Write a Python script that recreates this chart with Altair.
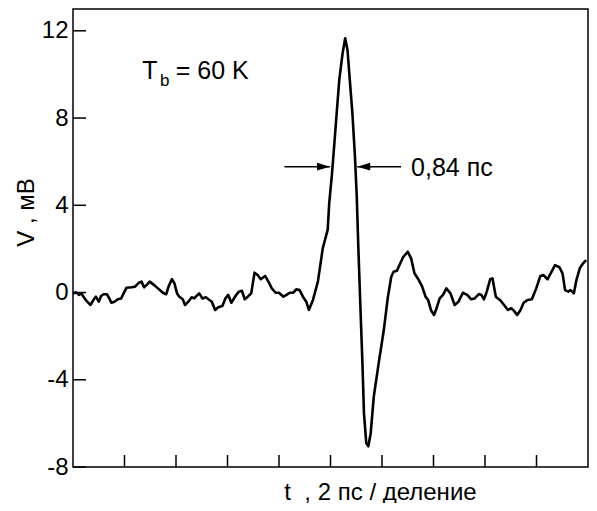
import altair as alt
import pandas as pd

# ---- data (t in ps, V in mV) ----
t_ps = [0.00, 0.13, 0.23, 0.33, 0.42, 0.55, 0.68, 0.81, 0.89, 1.00,
        1.09, 1.19, 1.32, 1.41, 1.49, 1.61, 1.74, 1.87, 2.00, 2.08,
        2.28, 2.41, 2.56, 2.66, 2.76, 2.85, 2.98, 3.15, 3.30, 3.49,
        3.62, 3.71, 3.84, 3.94, 4.04, 4.13, 4.26, 4.35, 4.48, 4.61,
        4.71, 4.77, 4.90, 5.03, 5.16, 5.26, 5.39, 5.52, 5.64, 5.80,
        5.92, 6.03, 6.15, 6.31, 6.44, 6.56, 6.67, 6.79, 6.92, 7.05,
        7.17, 7.29, 7.46, 7.59, 7.72, 7.87, 8.00, 8.17, 8.29, 8.42,
        8.55, 8.68, 8.80, 8.93, 9.06, 9.16, 9.32, 9.51, 9.70, 9.89,
        9.95, 10.06, 10.15, 10.24, 10.34, 10.47, 10.57, 10.66, 10.75, 10.85,
        10.95, 11.02, 11.08, 11.17, 11.24, 11.30, 11.39, 11.47, 11.56, 11.68,
        11.87, 12.07, 12.23, 12.36, 12.45, 12.58, 12.71, 12.83, 13.00, 13.13,
        13.26, 13.41, 13.56, 13.69, 13.79, 13.90, 14.02, 14.12, 14.24, 14.37,
        14.50, 14.66, 14.82, 14.97, 15.14, 15.31, 15.46, 15.60, 15.76, 15.86,
        15.96, 16.07, 16.20, 16.29, 16.42, 16.58, 16.74, 16.89, 17.02, 17.12,
        17.25, 17.38, 17.50, 17.66, 17.82, 17.99, 18.15, 18.27, 18.43, 18.55,
        18.72, 18.89, 19.01, 19.11, 19.23, 19.32, 19.45, 19.55, 19.68, 19.81,
        19.93]
v_mv = [-0.04, 0.01, -0.11, -0.04, -0.22, -0.42, -0.57, -0.31, -0.19, -0.42,
        -0.16, -0.08, -0.08, -0.27, -0.47, -0.42, -0.31, -0.27, 0.04, 0.22,
        0.24, 0.27, 0.45, 0.50, 0.24, 0.34, 0.50, 0.34, 0.19, -0.01,
        -0.08, 0.27, 0.61, 0.42, -0.04, -0.19, -0.31, -0.57, -0.42, -0.22,
        -0.27, -0.19, -0.04, -0.27, -0.22, -0.31, -0.42, -0.80, -0.68, -0.62,
        -0.27, -0.11, -0.47, -0.16, 0.04, 0.08, -0.31, -0.19, -0.04, 0.91,
        0.80, 0.61, 0.76, 0.50, 0.19, -0.01, -0.01, -0.19, -0.11, -0.01,
        -0.01, 0.15, 0.11, -0.19, -0.42, -0.80, -0.34, 0.50, 2.03, 2.87,
        4.09, 5.47, 6.84, 8.22, 9.74, 10.97, 11.66, 11.12, 9.74, 8.22,
        6.23, 4.39, 2.10, -0.95, -3.25, -5.54, -6.91, -7.05, -6.46, -4.78,
        -3.25, -1.72, -0.19, 0.72, 0.95, 1.00, 1.34, 1.64, 1.87, 1.57,
        0.88, 0.61, 0.27, -0.19, -0.34, -0.80, -1.03, -0.72, -0.27, -0.11,
        0.19, -0.04, -0.57, -0.42, -0.01, -0.11, -0.31, -0.27, -0.07, -0.11,
        -0.31, 0.04, 0.61, 0.65, -0.19, -0.34, -0.57, -0.80, -0.72, -0.83,
        -1.03, -0.80, -0.47, -0.34, -0.31, 0.19, 0.76, 0.80, 0.61, 0.88,
        1.26, 1.16, 0.88, 0.11, 0.04, 0.11, -0.04, 0.57, 1.11, 1.34,
        1.49]

y_tick_values = [-8, -4, 0, 4, 8, 12]
x_tick_values = [2, 4, 6, 8, 10, 12, 14, 16, 18]

# FWHM annotation (arrows at half maximum)
arrow_starts = [8.21, 12.74]
arrow_tips = [9.98, 11.04]
arrow_level = [5.77, 5.77]
head_centers = [9.73, 11.29]

label_texts = ["T", "b", "= 60 K", "0,84 пс"]
label_t = [2.69, 3.38, 3.99, 13.13]
label_v = [9.79, 9.47, 9.79, 5.32]
label_sizes = [25, 17, 25, 25]

x_title = "t\u00a0 , 2 пс / деление"
y_title = "V , мВ"

FONT = "Liberation Sans"
W, H = 515, 458

x_scale = alt.Scale(domain=[0, 20], nice=False, zero=False)
y_scale = alt.Scale(domain=[-8, 13], nice=False, zero=False)

x_axis = alt.Axis(
    title=x_title, labels=False, ticks=False, domain=False, grid=False,
    titleX=307, titleY=32, titleBaseline="alphabetic", titleAlign="center",
    titleFontSize=24, titleFontWeight="normal", titleFont=FONT,
    titleColor="black")
y_axis = alt.Axis(
    values=y_tick_values, title=y_title, ticks=False, tickSize=0,
    domain=False, grid=False, labelPadding=5, labelFontSize=24,
    labelFont=FONT, labelColor="black", labelExpr="'' + datum.value",
    titleX=-47, titleY=203, titleBaseline="middle", titleAlign="center",
    titleAngle=270, titleFontSize=24, titleFontWeight="normal",
    titleFont=FONT, titleColor="black")

signal = pd.DataFrame({"t": t_ps, "v": v_mv})

line = alt.Chart(signal).mark_line(
    color="black", strokeWidth=2.6, strokeJoin="round"
).encode(
    x=alt.X("t:Q", scale=x_scale, axis=x_axis),
    y=alt.Y("v:Q", scale=y_scale, axis=y_axis),
)

ytick = alt.Chart(pd.DataFrame({"v": y_tick_values})).mark_rule(
    color="black", strokeWidth=1.5
).encode(
    y=alt.Y("v:Q", scale=y_scale, axis=y_axis),
    x=alt.value(0), x2=alt.value(13),
)

xtick = alt.Chart(pd.DataFrame({"t": x_tick_values})).mark_rule(
    color="black", strokeWidth=1.5
).encode(
    x=alt.X("t:Q", scale=x_scale, axis=x_axis),
    y=alt.value(H), y2=alt.value(H - 12),
)

arrows = pd.DataFrame({"t": arrow_starts, "b": arrow_tips, "v": arrow_level})
arrow_lines = alt.Chart(arrows).mark_rule(color="black", strokeWidth=1.5).encode(
    x=alt.X("t:Q", scale=x_scale, axis=x_axis),
    x2="b:Q",
    y=alt.Y("v:Q", scale=y_scale, axis=y_axis),
)

heads = pd.DataFrame({"t": head_centers, "v": arrow_level, "dir": ["right", "left"]})
head_right = alt.Chart(heads).transform_filter("datum.dir == 'right'").mark_point(
    shape="M-1,-0.6L1,0L-1,0.6Z", filled=True, size=169, color="black", opacity=1
).encode(
    x=alt.X("t:Q", scale=x_scale, axis=x_axis),
    y=alt.Y("v:Q", scale=y_scale, axis=y_axis),
)
head_left = alt.Chart(heads).transform_filter("datum.dir == 'left'").mark_point(
    shape="M1,-0.6L-1,0L1,0.6Z", filled=True, size=169, color="black", opacity=1
).encode(
    x=alt.X("t:Q", scale=x_scale, axis=x_axis),
    y=alt.Y("v:Q", scale=y_scale, axis=y_axis),
)

labels = pd.DataFrame({"txt": label_texts, "t": label_t, "v": label_v, "s": label_sizes})
text_layer = alt.Chart(labels).mark_text(
    align="left", baseline="alphabetic", font=FONT, color="black"
).encode(
    x=alt.X("t:Q", scale=x_scale, axis=x_axis),
    y=alt.Y("v:Q", scale=y_scale, axis=y_axis),
    text="txt:N",
    size=alt.Size("s:Q", scale=None, legend=None),
)

chart = alt.layer(
    line, ytick, xtick, arrow_lines, head_right, head_left, text_layer
).properties(
    width=W, height=H,
    autosize=alt.AutoSizeParams(type="none"),
    padding={"left": 65, "top": 1, "right": 1, "bottom": 36},
).configure_view(
    stroke="black", strokeWidth=1.5
)

chart.save("out.html", embed_options={"renderer": "svg", "actions": False})
